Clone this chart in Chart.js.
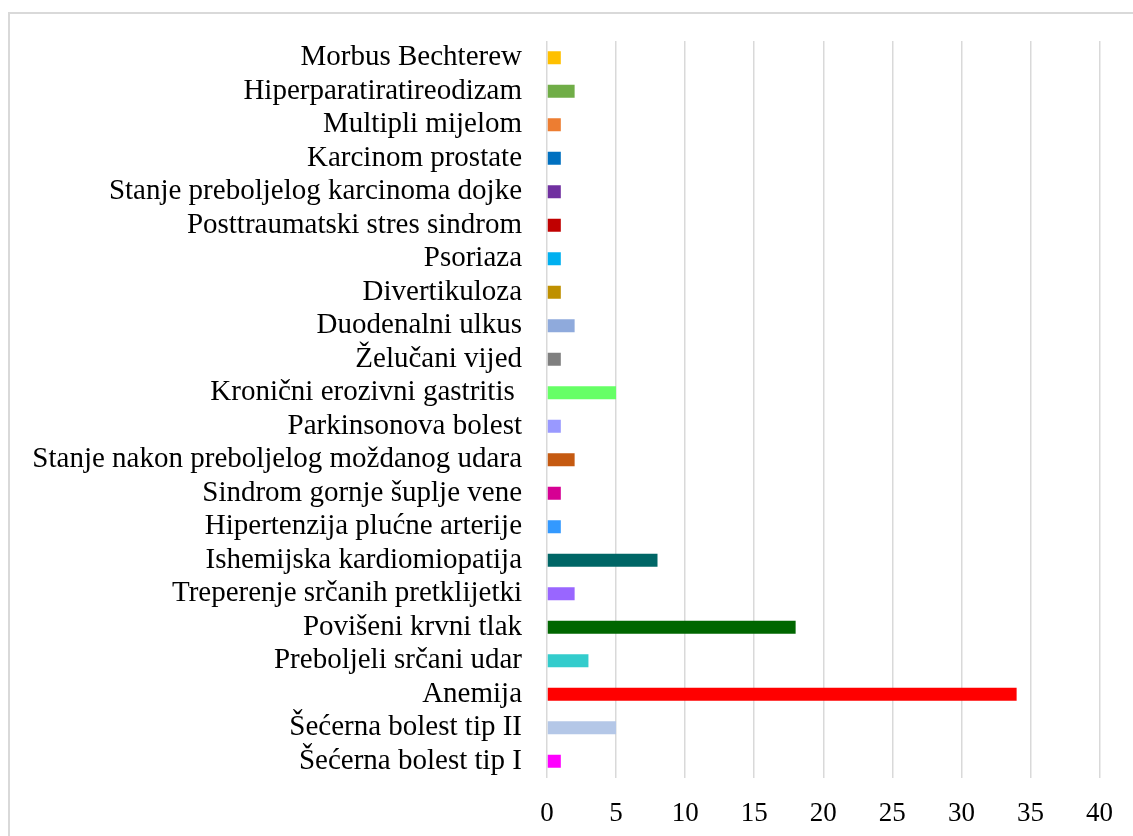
<!DOCTYPE html>
<html>
<head>
<meta charset="utf-8">
<script src="https://cdn.jsdelivr.net/npm/chart.js@4"></script>
<style>
  html, body { margin: 0; padding: 0; background: #fff; overflow: hidden; }
  #wrap { position: relative; width: 1133px; height: 836px; }
  #frame { position: absolute; left: 8px; top: 12px; width: 1200px; height: 900px; border: 2px solid #d9d9d9; }
  #chart { position: absolute; left: 0; top: 0; }
</style>
</head>
<body>
<div id="wrap">
  <div id="frame"></div>
  <canvas id="chart" width="1133" height="836"></canvas>
</div>
<script>
// categories, top to bottom as shown
const diagnoses = [
    'Morbus Bechterew',
    'Hiperparatiratireodizam',
    'Multipli mijelom',
    'Karcinom prostate',
    'Stanje preboljelog karcinoma dojke',
    'Posttraumatski stres sindrom',
    'Psoriaza',
    'Divertikuloza',
    'Duodenalni ulkus',
    'Želučani vijed',
    'Kronični erozivni gastritis ',
    'Parkinsonova bolest',
    'Stanje nakon preboljelog moždanog udara',
    'Sindrom gornje šuplje vene',
    'Hipertenzija plućne arterije',
    'Ishemijska kardiomiopatija',
    'Treperenje srčanih pretklijetki',
    'Povišeni krvni tlak',
    'Preboljeli srčani udar',
    'Anemija',
    'Šećerna bolest tip II',
    'Šećerna bolest tip I'
];

const patientCounts = [1, 2, 1, 1, 1, 1, 1, 1, 2, 1, 5, 1, 2, 1, 1, 8, 2, 18, 3, 34, 5, 1];

const barColors = [
    '#FFC000', '#70AD47', '#ED7D31', '#0070C0', '#7030A0', '#C00000',
    '#00B0F0', '#BF9000', '#8FAADC', '#7F7F7F', '#66FF66', '#9999FF',
    '#C55A11', '#D60093', '#3399FF', '#006666', '#9966FF', '#006600',
    '#33CCCC', '#FF0000', '#B4C7E7', '#FF00FF'
];

const xMin = 0, xMax = 40, xStep = 5;

const serif = '"Liberation Serif", "Times New Roman", serif';

const ctx = document.getElementById('chart').getContext('2d');
new Chart(ctx, {
    type: 'bar',
    data: {
        labels: diagnoses,
        datasets: [{
            data: patientCounts,
            backgroundColor: barColors,
            borderWidth: 0,
            barPercentage: 0.39,
            categoryPercentage: 1
        }]
    },
    options: {
        indexAxis: 'y',
        responsive: false,
        animation: false,
        layout: { padding: { top: 41, right: 33, left: 0, bottom: 0 } },
        plugins: {
            legend: { display: false },
            tooltip: { enabled: false }
        },
        scales: {
            x: {
                min: xMin,
                max: xMax,
                ticks: { stepSize: xStep, color: '#000', font: { family: serif, size: 27 }, padding: 20 },
                grid: { color: '#d9d9d9', lineWidth: 1.5, drawTicks: false },
                border: { display: false },
                afterFit: function(scale) { scale.height = 58; }
            },
            y: {
                ticks: { color: '#000', font: { family: serif, size: 29 }, padding: 17, autoSkip: false },
                grid: { display: false },
                border: { display: false },
                afterFit: function(scale) { scale.width = 547; }
            }
        }
    }
});
</script>
</body>
</html>
